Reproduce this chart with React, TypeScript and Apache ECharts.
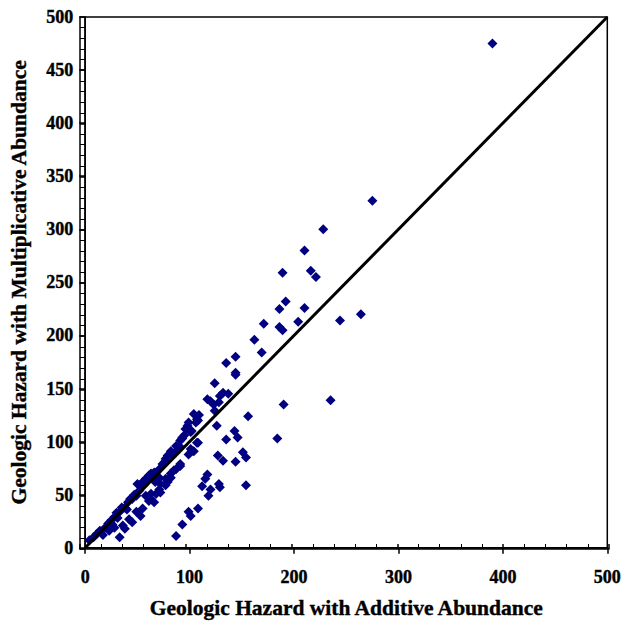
import React, { useEffect, useRef } from "react";
import * as echarts from "echarts";

const xTitle = "Geologic Hazard with Additive Abundance";
const yTitle = "Geologic Hazard with Multiplicative Abundance";

const additive: number[] = [
  390, 275, 228, 210, 189, 216, 221, 192, 186, 210, 171, 186, 189, 204, 244, 264, 162, 169, 144, 135,
  144, 144, 190, 235, 124, 117, 120, 123, 128, 129, 132, 137, 124, 126, 156, 143, 146, 135, 109, 104,
  107, 108, 99, 101, 95, 93, 91, 108, 102, 101, 99, 127, 132, 144, 151, 154, 117, 115, 112, 120,
  118, 128, 129, 154, 108, 99, 101, 93, 87, 184, 96, 98, 90, 87, 87, 82, 83, 79, 77, 77,
  74, 71, 66, 68, 61, 63, 65, 58, 61, 55, 57, 52, 56, 50, 52, 49, 45, 41, 38, 33,
  28, 25, 22, 19, 14, 11, 8, 4, 91, 91, 85, 87, 82, 82, 79, 77, 72, 71, 68, 63,
  58, 80, 77, 72, 71, 67, 63, 61, 66, 55, 49, 53, 42, 45, 36, 28, 23, 17, 38, 33,
  104, 107, 93, 106, 102, 47, 35, 30, 43, 60, 26, 31, 40
];

const multiplicative: number[] = [
  475, 327, 300, 280, 259, 261, 255, 232, 225, 226, 211, 208, 205, 213, 214, 220, 196, 184, 180, 174,
  165, 163, 135, 139, 155, 140, 138, 135, 137, 143, 146, 145, 129, 115, 124, 110, 104, 102, 125, 126,
  121, 120, 118, 109, 106, 103, 101, 99, 91, 93, 88, 87, 82, 81, 90, 85, 69, 65, 58, 55,
  49, 60, 57, 59, 37, 34, 30, 22, 11, 103, 112, 115, 96, 96, 91, 91, 87, 87, 84, 82,
  79, 74, 71, 71, 68, 70, 68, 65, 65, 62, 62, 59, 59, 60, 54, 49, 46, 43, 38, 34,
  29, 26, 23, 19, 16, 13, 10, 7, 79, 77, 73, 74, 70, 66, 62, 65, 60, 55, 51, 46,
  49, 65, 59, 52, 66, 62, 51, 44, 43, 37, 34, 30, 27, 24, 21, 19, 16, 12, 18, 10,
  91, 99, 104, 118, 110, 50, 38, 33, 46, 64, 22, 28, 36
];

const equalityLine: number[][] = [
  [0, 0],
  [500, 500]
];

const FONT = "'Liberation Serif', 'Times New Roman', serif";

export default function App() {
  const ref = useRef<HTMLDivElement>(null);

  useEffect(() => {
    if (!ref.current) return;
    const chart = echarts.init(ref.current, undefined, { renderer: "svg" });
    const points = additive.map((x, i) => [x, multiplicative[i]]);
    const gridRect = { left: 80, right: 15, top: 17, bottom: 75 };
    const axisLine = { show: true, lineStyle: { color: "#000", width: 1.5 } };
    const heavy = { textBorderColor: "#000", textBorderWidth: 0.4 };

    chart.setOption({
      animation: false,
      backgroundColor: "#fff",
      grid: [
        { ...gridRect, show: true, borderColor: "#000", borderWidth: 1.5, backgroundColor: "transparent" },
        { ...gridRect }
      ],
      xAxis: [
        {
          gridIndex: 0,
          type: "value",
          min: 0,
          max: 500,
          interval: 100,
          name: xTitle,
          nameLocation: "middle",
          nameGap: 49,
          nameTextStyle: { fontFamily: FONT, fontWeight: "bold", fontSize: 21.5, color: "#000", verticalAlign: "top", ...heavy },
          axisLine,
          axisTick: { show: true, inside: false, length: 6, lineStyle: { color: "#000", width: 1.5 } },
          axisLabel: { fontFamily: FONT, fontWeight: "bold", fontSize: 18, color: "#000", margin: 20, ...heavy },
          splitLine: { show: false }
        },
        {
          gridIndex: 1,
          type: "value",
          position: "bottom",
          min: 0,
          max: 500,
          interval: 100,
          axisLine,
          axisTick: { show: true, inside: true, length: 5, lineStyle: { color: "#000", width: 1.5 } },
          minorTick: { show: true, splitNumber: 5, length: 5, lineStyle: { color: "#000", width: 1 } },
          axisLabel: { show: false },
          splitLine: { show: false }
        }
      ],
      yAxis: [
        {
          gridIndex: 0,
          type: "value",
          min: 0,
          max: 500,
          interval: 50,
          name: yTitle,
          nameLocation: "middle",
          nameGap: 55,
          nameTextStyle: { fontFamily: FONT, fontWeight: "bold", fontSize: 21.5, color: "#000", ...heavy },
          axisLine,
          axisTick: { show: true, inside: false, length: 6, lineStyle: { color: "#000", width: 1.5 } },
          axisLabel: { fontFamily: FONT, fontWeight: "bold", fontSize: 18, color: "#000", margin: 12, ...heavy },
          splitLine: { show: false }
        },
        {
          gridIndex: 1,
          type: "value",
          position: "left",
          min: 0,
          max: 500,
          interval: 50,
          axisLine,
          axisTick: { show: true, inside: true, length: 5, lineStyle: { color: "#000", width: 1.5 } },
          minorTick: { show: true, splitNumber: 5, length: 5, lineStyle: { color: "#000", width: 1 } },
          axisLabel: { show: false },
          splitLine: { show: false }
        }
      ],
      series: [
        {
          type: "scatter",
          xAxisIndex: 0,
          yAxisIndex: 0,
          data: points,
          symbol: "diamond",
          symbolSize: 10,
          itemStyle: { color: "#000080", opacity: 1 },
          z: 2
        },
        {
          type: "line",
          xAxisIndex: 0,
          yAxisIndex: 0,
          data: equalityLine,
          symbol: "none",
          lineStyle: { color: "#000", width: 3 },
          z: 3
        }
      ]
    });

    return () => chart.dispose();
  }, []);

  return (
    <div
      ref={ref}
      style={{ position: "absolute", left: 0, top: 0, width: 624, height: 624 }}
    />
  );
}
